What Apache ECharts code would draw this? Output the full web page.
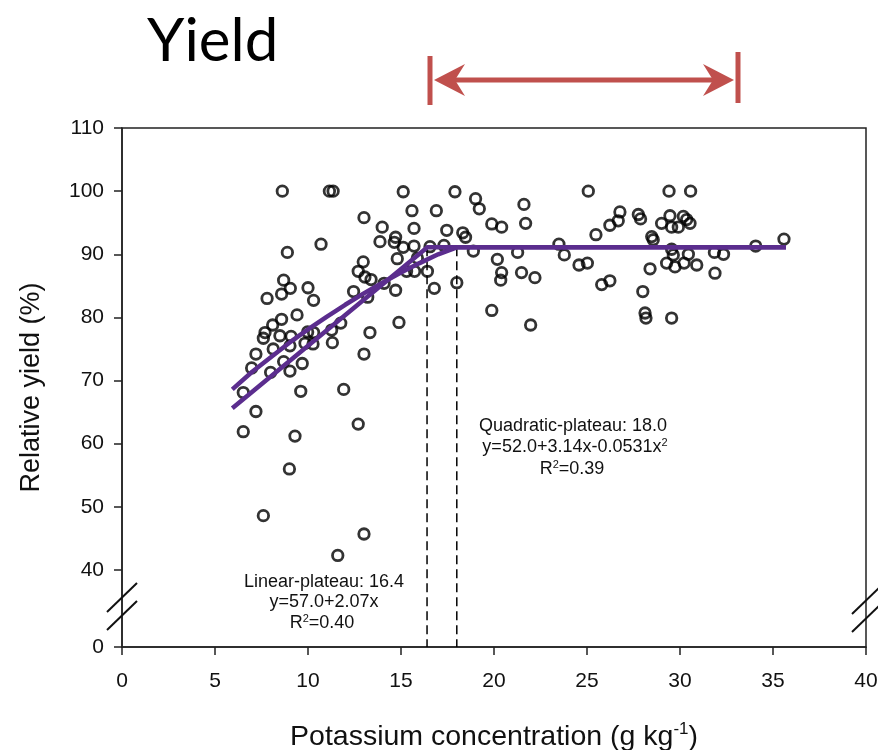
<!DOCTYPE html>
<html>
<head>
<meta charset="utf-8">
<script src="https://cdn.jsdelivr.net/npm/echarts@6/dist/echarts.min.js"></script>
<style>
html,body{margin:0;padding:0;background:#fff;}
#chart{width:878px;height:750px;}
</style>
</head>
<body>
<div id="chart"></div>
<script>
// ---- data ----
const kConc = [
  8.62, 11.15, 11.35, 8.89, 10.70, 8.69, 9.05, 8.58, 7.80, 10.0, 10.3, 12.45, 9.41, 8.58, 8.10, 7.69, 7.60, 8.49, 9.09, 9.98,
  10.30, 11.27, 11.76, 9.03, 9.84, 10.27, 11.31, 8.13, 7.20, 6.97, 8.69, 9.69, 7.99, 9.03, 6.52, 9.61, 11.92, 7.20, 6.52, 9.30,
  12.70, 9.0, 7.6, 13.01, 11.6, 15.12, 17.90, 13.01, 15.59, 16.90, 13.99, 15.70, 17.46, 18.32, 13.87, 14.71, 14.64, 15.12, 15.70, 16.56,
  17.31, 18.47, 14.80, 15.88, 12.97, 12.70, 13.06, 13.39, 15.30, 15.73, 16.42, 13.21, 14.09, 14.71, 16.79, 18.0, 14.89, 13.33, 13.01, 19.01,
  19.21, 21.61, 25.07, 21.70, 19.88, 20.41, 26.77, 26.68, 26.23, 25.48, 18.89, 23.49, 23.78, 21.27, 20.18, 20.41, 20.36, 21.48, 22.20, 24.57,
  25.02, 25.79, 26.23, 19.88, 21.97, 29.41, 30.57, 27.76, 27.88, 29.46, 30.18, 29.01, 29.55, 29.91, 30.36, 30.54, 28.48, 28.56, 29.55, 30.45,
  29.64, 31.85, 32.34, 34.07, 35.59, 29.28, 29.73, 30.22, 30.90, 28.39, 31.88, 28.0, 28.12, 28.17, 29.55
];
const relYield = [
  100, 100, 100, 90.3, 91.6, 85.9, 84.6, 83.7, 83.0, 84.7, 82.7, 84.1, 80.4, 79.7, 78.8, 77.6, 76.7, 77.1, 77.0, 77.7,
  77.6, 78.0, 79.1, 75.5, 75.9, 75.8, 76.0, 75.0, 74.2, 72.0, 73.0, 72.7, 71.3, 71.5, 68.1, 68.3, 68.6, 65.1, 61.9, 61.2,
  63.1, 56.0, 48.6, 45.7, 42.3, 99.9, 99.9, 95.8, 96.9, 96.9, 94.3, 94.1, 93.8, 93.4, 92.0, 92.7, 91.9, 91.1, 91.3, 91.2,
  91.4, 92.7, 89.3, 89.4, 88.8, 87.3, 86.4, 86.0, 87.3, 87.3, 87.3, 83.2, 85.4, 84.3, 84.6, 85.5, 79.2, 77.6, 74.2, 98.8,
  97.2, 97.9, 100, 94.9, 94.8, 94.3, 96.7, 95.3, 94.6, 93.1, 90.5, 91.6, 89.9, 90.3, 89.2, 87.1, 85.9, 87.1, 86.3, 88.3,
  88.6, 85.2, 85.8, 81.1, 78.8, 100, 100, 96.3, 95.6, 96.1, 96.0, 94.9, 94.3, 94.3, 95.5, 94.9, 92.8, 92.3, 90.8, 90.0,
  89.9, 90.3, 90.0, 91.3, 92.4, 88.6, 88.0, 88.6, 88.3, 87.7, 87.0, 84.1, 80.7, 79.9, 79.9
];
// fitted curves as drawn
const linearX = [5.93, 16.42, 35.7];
const linearY = [65.6, 91.1, 91.1];
const quadX = [5.93, 7, 8, 9, 10, 11, 12, 13, 14, 15, 16, 17, 18, 35.7];
const quadY = [68.6, 71.4, 73.7, 76.0, 78.1, 80.1, 82.0, 83.8, 85.5, 87.1, 88.6, 90.0, 91.1, 91.1];
const linearBreak = 16.4, quadBreak = 18.0, plateauY = 91.1;
// axes
const xTicks = [0, 5, 10, 15, 20, 25, 30, 35, 40];
const yTicks = [40, 50, 60, 70, 80, 90, 100, 110];
const yZeroPos = 27.8;   // where the "0" of the broken axis sits
const yMax = 110;

const FONT = '"Liberation Sans", Arial, sans-serif';
const chart = echarts.init(document.getElementById('chart'), null, {renderer: 'canvas'});

const scatterData = kConc.map((x, i) => [x, relYield[i]]);
const linData = linearX.map((x, i) => [x, linearY[i]]);
const quadData = quadX.map((x, i) => [x, quadY[i]]);

const red = '#C0504D';
const purple = '#5B2D8E';

chart.setOption({
  animation: false,
  backgroundColor: '#fff',
  grid: {left: 122, right: 12, top: 128, bottom: 103, outerBoundsMode: 'none', containLabel: false,
         show: true, borderColor: '#222', borderWidth: 1.5, backgroundColor: 'transparent'},
  xAxis: {
    type: 'value', min: xTicks[0], max: xTicks[xTicks.length - 1], interval: 5,
    axisLine: {show: true, lineStyle: {color: '#222', width: 1.5}},
    axisTick: {show: true, length: 8, inside: false, lineStyle: {color: '#222', width: 1.5}},
    axisLabel: {color: '#111', fontSize: 21, fontFamily: FONT, margin: 24},
    splitLine: {show: false},
    name: '{a|Potassium concentration (g kg}{s|-1}{a|)}',
    nameLocation: 'middle', nameGap: 74,
    nameTextStyle: {
      rich: {
        a: {fontSize: 28.5, fontFamily: FONT, color: '#111', lineHeight: 32},
        s: {fontSize: 17, fontFamily: FONT, color: '#111', verticalAlign: 'top', lineHeight: 32}
      }
    }
  },
  yAxis: {
    type: 'value', min: yZeroPos, max: yMax,
    axisLine: {show: true, lineStyle: {color: '#222', width: 1.5}},
    axisTick: {show: true, length: 8, lineStyle: {color: '#222', width: 1.5}, customValues: [yZeroPos].concat(yTicks)},
    axisLabel: {
      color: '#111', fontSize: 21, fontFamily: FONT, margin: 18,
      customValues: [yZeroPos].concat(yTicks),
      formatter: v => (v < 35 ? '0' : String(Math.round(v)))
    },
    splitLine: {show: false},
    name: 'Relative yield (%)', nameLocation: 'middle', nameGap: 77,
    nameTextStyle: {fontSize: 27, fontFamily: FONT, color: '#111'}
  },
  series: [
    {
      type: 'scatter', data: scatterData, symbol: 'circle', symbolSize: 10.5, z: 2,
      itemStyle: {color: 'rgba(255,255,255,0)', borderColor: '#000', borderWidth: 2.8}
    },
    {
      type: 'line', data: [[linearBreak, plateauY], [linearBreak, yZeroPos]], symbol: 'none', z: 3,
      lineStyle: {color: '#000', width: 1.5, type: [9, 5]}
    },
    {
      type: 'line', data: [[quadBreak, plateauY], [quadBreak, yZeroPos]], symbol: 'none', z: 3,
      lineStyle: {color: '#000', width: 1.5, type: [9, 5]}
    },
    {
      type: 'line', data: linData, symbol: 'none', z: 4,
      lineStyle: {color: purple, width: 4.5, cap: 'butt', join: 'miter'}
    },
    {
      type: 'line', data: quadData, symbol: 'none', z: 4,
      lineStyle: {color: purple, width: 4.5, cap: 'butt', join: 'round'}
    }
  ],
  graphic: [
    // Title
    {type: 'text', left: 147, top: 12, style: {text: 'Yield', font: '60px Lato, "Open Sans", sans-serif', fill: '#000'}},
    // red double arrow
    {type: 'line', shape: {x1: 430, y1: 56, x2: 430, y2: 105}, style: {stroke: red, lineWidth: 5}},
    {type: 'line', shape: {x1: 738, y1: 52, x2: 738, y2: 103}, style: {stroke: red, lineWidth: 5}},
    {type: 'line', shape: {x1: 445, y1: 80, x2: 722, y2: 80}, style: {stroke: red, lineWidth: 5}},
    {type: 'polygon', shape: {points: [[434, 80], [465, 64], [455, 80], [465, 96]]}, style: {fill: red}},
    {type: 'polygon', shape: {points: [[734, 80], [703, 64], [713, 80], [703, 96]]}, style: {fill: red}},
    // axis break marks
    {type: 'line', shape: {x1: 107, y1: 612, x2: 137, y2: 583}, style: {stroke: '#111', lineWidth: 2}, z: 10},
    {type: 'line', shape: {x1: 107, y1: 630, x2: 137, y2: 601}, style: {stroke: '#111', lineWidth: 2}, z: 10},
    {type: 'line', shape: {x1: 852, y1: 614, x2: 882, y2: 585}, style: {stroke: '#111', lineWidth: 2}, z: 10},
    {type: 'line', shape: {x1: 852, y1: 632, x2: 882, y2: 603}, style: {stroke: '#111', lineWidth: 2}, z: 10},
    // annotations
    {type: 'text', x: 324, y: 582, style: {text: 'Linear-plateau: 16.4', font: '18px ' + FONT, fill: '#111', align: 'center', verticalAlign: 'middle'}},
    {type: 'text', x: 324, y: 602, style: {text: 'y=57.0+2.07x', font: '18px ' + FONT, fill: '#111', align: 'center', verticalAlign: 'middle'}},
    {type: 'text', x: 322, y: 623, style: {
      text: '{a|R}{s|2}{a|=0.40}', align: 'center', verticalAlign: 'middle',
      rich: {a: {fontSize: 18, fontFamily: FONT, fill: '#111', lineHeight: 20}, s: {fontSize: 11, fontFamily: FONT, fill: '#111', verticalAlign: 'top', lineHeight: 20}}
    }},
    {type: 'text', x: 573, y: 426, style: {text: 'Quadratic-plateau: 18.0', font: '18px ' + FONT, fill: '#111', align: 'center', verticalAlign: 'middle'}},
    {type: 'text', x: 575, y: 447, style: {
      text: '{a|y=52.0+3.14x-0.0531x}{s|2}', align: 'center', verticalAlign: 'middle',
      rich: {a: {fontSize: 18, fontFamily: FONT, fill: '#111', lineHeight: 20}, s: {fontSize: 11, fontFamily: FONT, fill: '#111', verticalAlign: 'top', lineHeight: 20}}
    }},
    {type: 'text', x: 572, y: 469, style: {
      text: '{a|R}{s|2}{a|=0.39}', align: 'center', verticalAlign: 'middle',
      rich: {a: {fontSize: 18, fontFamily: FONT, fill: '#111', lineHeight: 20}, s: {fontSize: 11, fontFamily: FONT, fill: '#111', verticalAlign: 'top', lineHeight: 20}}
    }}
  ]
});
</script>
</body>
</html>
